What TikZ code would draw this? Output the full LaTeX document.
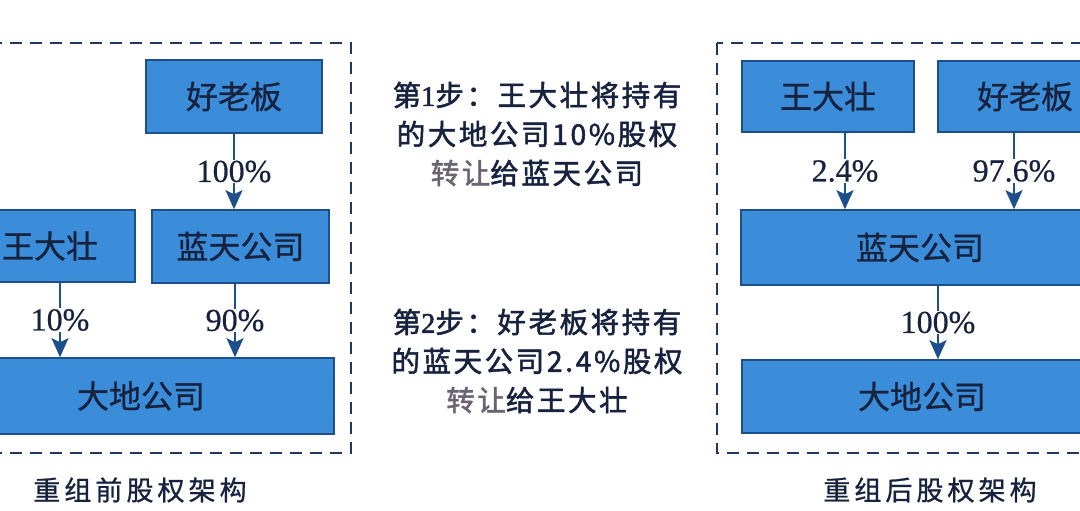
\documentclass[tikz,border=0pt]{standalone}
\usepackage{fontspec}
\setmainfont{Liberation Serif}
\newfontfamily\cjk[FakeBold=0.9]{Noto Sans CJK SC}
\newfontfamily\cjkw[LetterSpace=9,FakeBold=1.8]{Noto Sans CJK SC}
\newfontfamily\cjkc[LetterSpace=15,FakeBold=0.9]{Noto Sans CJK SC}
\newfontfamily\serifb[FakeBold=1.8]{Liberation Serif}
\newfontfamily\serifp[FakeBold=0.6]{Liberation Serif}
\usetikzlibrary{arrows.meta}
\definecolor{boxfill}{HTML}{3B8DD9}
\definecolor{boxline}{HTML}{1D4F8C}
\definecolor{ink}{HTML}{17223F}
\definecolor{dashc}{HTML}{1F3762}
\definecolor{greyink}{HTML}{6A6470}
\newcommand\dg[1]{{\serifb #1}}
\tikzset{
  ent/.style={draw=boxline, line width=1.6pt, fill=boxfill, inner sep=0pt, text=ink,
    font=\cjk\fontsize{32}{32}\selectfont},
  pct/.style={fill=white, inner sep=1pt, text=ink, font=\serifp\fontsize{32}{32}\selectfont},
  arr/.style={draw=boxline, line width=2pt, -{Stealth[length=19pt,width=17pt,inset=4pt]}},
  frame/.style={draw=dashc, line width=2.6pt, dash pattern=on 12pt off 8pt},
  steptxt/.style={align=center, text=ink, font=\cjkw\fontsize{28.5}{39}\selectfont},
  captxt/.style={text=ink, font=\cjkc\fontsize{27}{27}\selectfont},
}
\begin{document}
\begin{tikzpicture}[x=1pt,y=-1pt]
\clip (0,0) rectangle (1080,511);
\fill[white] (0,0) rectangle (1080,511);

% left structure
\draw[frame] (-60,43) rectangle (351,453);
\node[ent, minimum width=176pt, minimum height=73pt] (hlbL) at (234,96.5) {好老板};
\node[ent, minimum width=170pt, minimum height=72pt] (wdzL) at (50,246) {王大壮};
\node[ent, minimum width=177pt, minimum height=73pt] (ltL) at (240.5,246.5) {蓝天公司};
\node[ent, minimum width=386pt, minimum height=76pt] (ddL) at (141,396) {大地公司};
\draw[arr] (hlbL.south -| 234,0) -- node[pct]{100\%} (ltL.north -| 234,0);
\draw[arr] (wdzL.south -| 60,0) -- node[pct]{10\%} (ddL.north -| 60,0);
\draw[arr] (ltL.south -| 235,0) -- node[pct]{90\%} (ddL.north -| 235,0);
\node[captxt] (capL) at (140,490) {重组前股权架构};

% middle steps
\node[steptxt] (s1) at (537,134) {第\dg{1}步：王大壮将持有\\的大地公司10\%股权\\{\color{greyink}转让}给蓝天公司};
\node[steptxt] (s2) at (537,361) {第\dg{2}步：好老板将持有\\的蓝天公司2.4\%股权\\{\color{greyink}转让}给王大壮};

% right structure
\draw[frame] (717,43) rectangle (1130,453);
\node[ent, minimum width=172pt, minimum height=71pt] (wdzR) at (828,96.5) {王大壮};
\node[ent, minimum width=174pt, minimum height=71pt] (hlbR) at (1025,96.5) {好老板};
\node[ent, minimum width=358pt, minimum height=75pt] (ltR) at (920,247.5) {蓝天公司};
\node[ent, minimum width=360pt, minimum height=73pt] (ddR) at (922,396.5) {大地公司};
\draw[arr] (wdzR.south -| 845,0) -- node[pct]{2.4\%} (ltR.north -| 845,0);
\draw[arr] (hlbR.south -| 1014,0) -- node[pct]{97.6\%} (ltR.north -| 1014,0);
\draw[arr] (ltR.south -| 938,0) -- node[pct]{100\%} (ddR.north -| 938,0);
\node[captxt] (capR) at (930,490) {重组后股权架构};
\end{tikzpicture}
\end{document}
